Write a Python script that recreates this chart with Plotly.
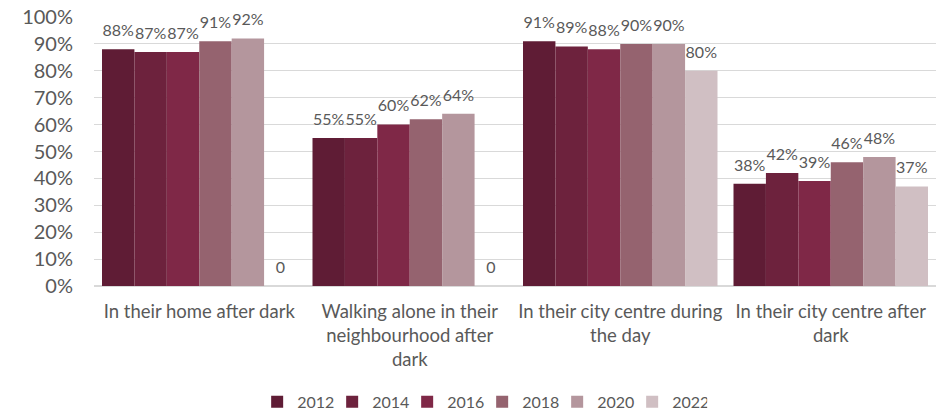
import plotly.graph_objects as go

categories = [
    "In their home after dark",
    "Walking alone in their<br>neighbourhood after<br>dark",
    "In their city centre during<br>the day",
    "In their city centre after<br>dark",
]
years = ["2012", "2014", "2016", "2018", "2020", "2022"]
values = {
    "2012": [88, 55, 91, 38],
    "2014": [87, 55, 89, 42],
    "2016": [87, 60, 88, 39],
    "2018": [91, 62, 90, 46],
    "2020": [92, 64, 90, 48],
    "2022": [0, 0, 80, 37],
}
colors = ["#5f1c35", "#6d223d", "#7f2847", "#95636f", "#b4969d", "#d0bfc3"]

font_family = "Lato, 'Open Sans', sans-serif"
text_grey = "#595959"
gap = 0.076

fig = go.Figure()
for year, color in zip(years, colors):
    vals = values[year]
    fig.add_trace(go.Bar(
        name=year,
        x=categories,
        y=vals,
        marker=dict(color=color, line=dict(width=0)),
        hoverinfo="skip",
        offsetgroup=year,
    ))

# value labels, grouped the same way as the bars so each sits over its bar
for year in years:
    vals = values[year]
    labels = [f"{v}%" if v > 0 else "0" for v in vals]
    fig.add_trace(go.Scatter(
        x=categories,
        y=vals,
        mode="markers+text",
        marker=dict(size=13, color="rgba(0,0,0,0)"),
        text=labels,
        textposition="top center",
        textfont=dict(family=font_family, size=16, color=text_grey),
        showlegend=False,
        hoverinfo="skip",
        cliponaxis=False,
        offsetgroup=year,
    ))

fig.update_layout(
    barmode="group",
    scattermode="group",
    bargap=gap,
    scattergap=gap,
    bargroupgap=0,
    width=948,
    height=411,
    margin=dict(l=94, r=12, t=17, b=125, autoexpand=False),
    paper_bgcolor="white",
    plot_bgcolor="white",
    font=dict(family=font_family, color=text_grey),
    legend=dict(
        orientation="h",
        x=0.461, xanchor="center",
        y=-0.431, yanchor="middle",
        font=dict(size=16, color=text_grey),
        itemwidth=30,
        entrywidth=30,
        entrywidthmode="pixels",
        traceorder="normal",
    ),
)
fig.update_yaxes(
    range=[0, 100],
    dtick=10,
    ticksuffix="%",
    showgrid=True,
    gridcolor="#d9d9d9",
    gridwidth=1,
    zeroline=True,
    zerolinecolor="#d9d9d9",
    zerolinewidth=2,
    tickfont=dict(size=20, color=text_grey),
    ticklabelstandoff=20,
    showline=False,
    automargin=False,
)
fig.update_xaxes(
    tickfont=dict(size=18.5, color=text_grey),
    showline=False,
    ticks="",
    tickangle=0,
    ticklabelstandoff=12,
    automargin=False,
)

fig.write_html("out.html")
